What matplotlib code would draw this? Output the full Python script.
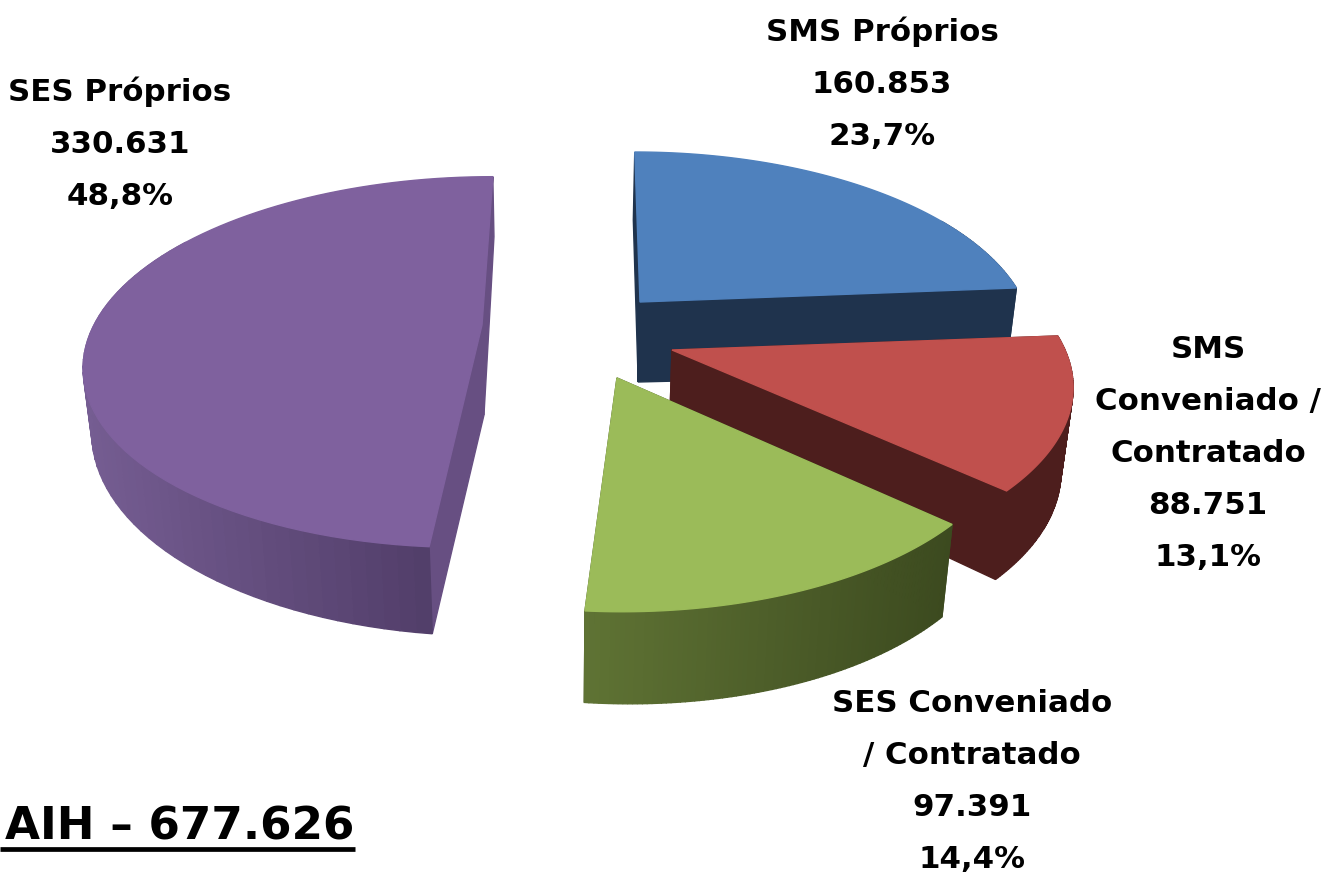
import numpy as np
import matplotlib
matplotlib.use("Agg")
import matplotlib.pyplot as plt
from matplotlib.colors import to_rgb

# AIH por tipo de prestador
names = ["SMS Próprios", "SMS\nConveniado /\nContratado", "SES Conveniado\n/ Contratado", "SES Próprios"]
values = [160853, 88751, 97391, 330631]
value_labels = ["160.853", "88.751", "97.391", "330.631"]
pct_labels = ["23,7%", "13,1%", "14,4%", "48,8%"]
total_label = "AIH – 677.626"

top_colors = ["#4f81bd", "#c0504d", "#9bbb59", "#7f619e"]
radial_colors = ["#1f334d", "#4d1e1d", "#3e4b20", "#674f82"]
arc_left = ["#1f334d", "#4d1e1d", "#5f7334", "#755d92"]
arc_right = ["#1f334d", "#4d1e1d", "#3c4a1f", "#4b3862"]

# slice centre on the canvas, ellipse size, lean, thickness
centers = [(640, 302), (672, 350), (617, 378), (482, 325)]
radius_x = [384, 393, 390, 388]
radius_y = [180, 180, 187, 178]
lean = [0.035, 0.0, 0.021, -0.073]
thick = [(80, 12, 6, 0), (76, 12, 6, 0), (80, 12, 6, 0), (74, 14, 12, 16)]
K = 0.2

fig = plt.figure(figsize=(13.28, 8.75), dpi=100)
ax = fig.add_axes([0, 0, 1, 1])
ax.set_xlim(0, 1328)
ax.set_ylim(875, 0)
ax.axis("off")


def project(c, rx, ry, s, th, r=1.0):
    u = r * np.sin(th)
    v = r * np.cos(th)
    p = 1 / (1 + K * v)
    dy = -ry * v * p
    return c[0] + rx * u * p + s * dy, c[1] + dy


def drop(pt, th, r, t):
    # point under the top face, a bit pulled towards the middle
    d = t[0] - t[1] * r * np.cos(th) + t[2] * r * np.sin(th) + t[3] * (1 - r)
    return pt[0] - (pt[0] - 560) * 0.00028 * d, pt[1] + d


def quad(pts, col, z):
    xs, ys = zip(*pts)
    ax.fill(xs, ys, color=col, lw=1.0, zorder=z)


edges = np.cumsum([0] + values) / sum(values) * 2 * np.pi
draw_order = [3, 0, 1, 2]

for n, i in enumerate(draw_order):
    c, rx, ry, s, t = centers[i], radius_x[i], radius_y[i], lean[i], thick[i]
    a0, a1 = edges[i], edges[i + 1]
    th = np.linspace(a0, a1, 90)
    rim = [project(c, rx, ry, s, a) for a in th]
    base = 10 * n

    # flat walls of the cut
    for a in (a0, a1):
        rr = np.linspace(0, 1, 12)
        line = [project(c, rx, ry, s, a, r) for r in rr]
        low = [drop(p, a, r, t) for p, r in zip(line, rr)]
        quad(line + low[::-1], radial_colors[i], base + 1)

    # outer wall, shaded from left to right
    low = [drop(p, a, 1.0, t) for p, a in zip(rim, th)]
    x_all = [p[0] for p in rim]
    x0, x1 = min(x_all), max(x_all)
    cl, cr = np.array(to_rgb(arc_left[i])), np.array(to_rgb(arc_right[i]))
    for j in range(len(th) - 1):
        if np.cos(th[j]) > 0.5:
            continue
        f = (0.5 * (rim[j][0] + rim[j + 1][0]) - x0) / (x1 - x0)
        quad([rim[j], rim[j + 1], low[j + 1], low[j]], tuple(cl + (cr - cl) * f), base + 2)

    quad([c] + rim, top_colors[i], base + 3)

label_pos = [(882, 32), (1208, 349), (972, 703), (120, 92)]
for name, val, pct, pos in zip(names, value_labels, pct_labels, label_pos):
    lines = name.split("\n") + [val, pct]
    for k, line in enumerate(lines):
        ax.text(pos[0], pos[1] + k * 52.2, line, ha="center", va="center", fontsize=22.2,
                fontweight="bold", family="DejaVu Sans", color="black", zorder=100)

ax.text(5, 827, total_label, ha="left", va="center", fontsize=32.6, fontweight="bold",
        family="DejaVu Sans", color="black", zorder=100)
ax.plot([0, 355], [849, 849], color="black", lw=3.4, solid_capstyle="butt", zorder=100)

fig.savefig("out.png", dpi=100, facecolor="white")
